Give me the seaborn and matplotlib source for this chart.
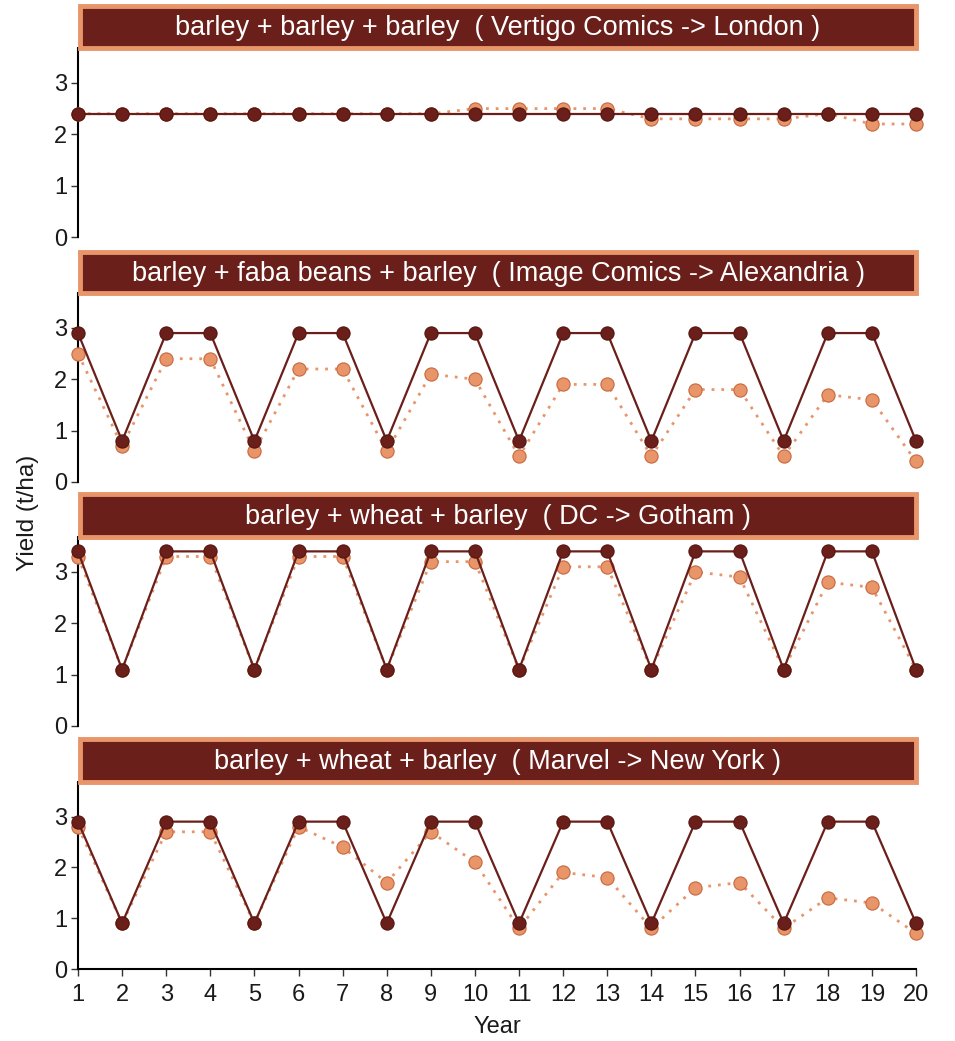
import numpy as np
import pandas as pd
import seaborn as sns
import matplotlib.pyplot as plt
from matplotlib.patches import Rectangle

sns.set_theme(style="white")
plt.rcParams["font.family"] = ["Liberation Sans", "DejaVu Sans"]

years = list(range(1, 21))

titles = [
    "barley + barley + barley  ( Vertigo Comics -> London )",
    "barley + faba beans + barley  ( Image Comics -> Alexandria )",
    "barley + wheat + barley  ( DC -> Gotham )",
    "barley + wheat + barley  ( Marvel -> New York )",
]

# solid series
london_solid = [2.4] * 20
alexandria_solid = [2.9, 0.8, 2.9, 2.9, 0.8, 2.9, 2.9, 0.8, 2.9, 2.9,
                    0.8, 2.9, 2.9, 0.8, 2.9, 2.9, 0.8, 2.9, 2.9, 0.8]
gotham_solid = [3.4, 1.1, 3.4, 3.4, 1.1, 3.4, 3.4, 1.1, 3.4, 3.4,
                1.1, 3.4, 3.4, 1.1, 3.4, 3.4, 1.1, 3.4, 3.4, 1.1]
newyork_solid = [2.9, 0.9, 2.9, 2.9, 0.9, 2.9, 2.9, 0.9, 2.9, 2.9,
                 0.9, 2.9, 2.9, 0.9, 2.9, 2.9, 0.9, 2.9, 2.9, 0.9]

# dotted series
london_dotted = [2.4, 2.4, 2.4, 2.4, 2.4, 2.4, 2.4, 2.4, 2.4, 2.5,
                 2.5, 2.5, 2.5, 2.3, 2.3, 2.3, 2.3, 2.4, 2.2, 2.2]
alexandria_dotted = [2.5, 0.7, 2.4, 2.4, 0.6, 2.2, 2.2, 0.6, 2.1, 2.0,
                     0.5, 1.9, 1.9, 0.5, 1.8, 1.8, 0.5, 1.7, 1.6, 0.4]
gotham_dotted = [3.3, 1.1, 3.3, 3.3, 1.1, 3.3, 3.3, 1.1, 3.2, 3.2,
                 1.1, 3.1, 3.1, 1.1, 3.0, 2.9, 1.1, 2.8, 2.7, 1.1]
newyork_dotted = [2.8, 0.9, 2.7, 2.7, 0.9, 2.8, 2.4, 1.7, 2.7, 2.1,
                  0.8, 1.9, 1.8, 0.8, 1.6, 1.7, 0.8, 1.4, 1.3, 0.7]

solid = [london_solid, alexandria_solid, gotham_solid, newyork_solid]
dotted = [london_dotted, alexandria_dotted, gotham_dotted, newyork_dotted]

DARK = "#6B1F1A"
DARK_EDGE = "#561510"
ORANGE = "#E8956A"
ORANGE_EDGE = "#C8673E"
TEXT = "#1a1a1a"

W, H = 955, 1041
fig = plt.figure(figsize=(W / 100, H / 100), dpi=100)

# (strip top, axes top, axes bottom) in pixels from the top
panels = [(6, 48, 237), (252, 293, 482), (494, 537, 726), (739, 782, 969)]
x_left, x_right = 78, 916

for i, (s_top, a_top, a_bot) in enumerate(panels):
    ax = fig.add_axes([x_left / W, 1 - a_bot / H,
                       (x_right - x_left) / W, (a_bot - a_top) / H])
    df = pd.DataFrame({"Year": years, "solid": solid[i], "dotted": dotted[i]})

    sns.lineplot(data=df, x="Year", y="dotted", ax=ax, color=ORANGE,
                 linestyle=(0, (1, 2.5)), linewidth=2.0, marker="o",
                 markersize=9.5, markerfacecolor=ORANGE,
                 markeredgecolor=ORANGE_EDGE, markeredgewidth=0.8,
                 clip_on=False, zorder=3)
    sns.lineplot(data=df, x="Year", y="solid", ax=ax, color=DARK,
                 linewidth=1.6, marker="o", markersize=9.5,
                 markerfacecolor=DARK, markeredgecolor=DARK_EDGE,
                 markeredgewidth=0.8, clip_on=False, zorder=4)

    ax.set_xlim(1, 20)
    ax.set_ylim(0, 3.68)
    ax.set_yticks([0, 1, 2, 3])
    ax.set_xticks(years)
    ax.set_ylabel("")
    ax.set_xlabel("")
    for side in ["top", "right"]:
        ax.spines[side].set_visible(False)
    ax.spines["left"].set_color("black")
    ax.spines["left"].set_linewidth(1.5)
    ax.tick_params(axis="y", left=True, length=5, width=1, color="#333333",
                   labelsize=17, labelcolor=TEXT, pad=3)
    if i < 3:
        ax.spines["bottom"].set_visible(False)
        ax.tick_params(axis="x", bottom=False, labelbottom=False)
    else:
        ax.spines["bottom"].set_color("black")
        ax.spines["bottom"].set_linewidth(1.5)
        ax.tick_params(axis="x", bottom=True, length=5, width=1,
                       color="#333333", labelsize=17,
                       labelcolor=TEXT, pad=6)
        ax.set_xlabel("Year", fontsize=17, color=TEXT, labelpad=7)

    # strip title
    sx0, sx1 = 80, 916
    strip = Rectangle((sx0 / W, 1 - a_top / H), (sx1 - sx0) / W,
                      (a_top - s_top) / H, transform=fig.transFigure,
                      facecolor=DARK, edgecolor=ORANGE, linewidth=3.5,
                      zorder=5)
    fig.add_artist(strip)
    fig.text((sx0 + sx1) / 2 / W, 1 - (s_top + a_top) / 2 / H - 0.001,
             titles[i], ha="center", va="center", color="white",
             fontsize=19.5, zorder=6)

fig.text(28 / W, 1 - 513 / H, "Yield (t/ha)", rotation=90, ha="center",
         va="center", fontsize=17.5, color=TEXT)

fig.savefig("out.png", dpi=100)
